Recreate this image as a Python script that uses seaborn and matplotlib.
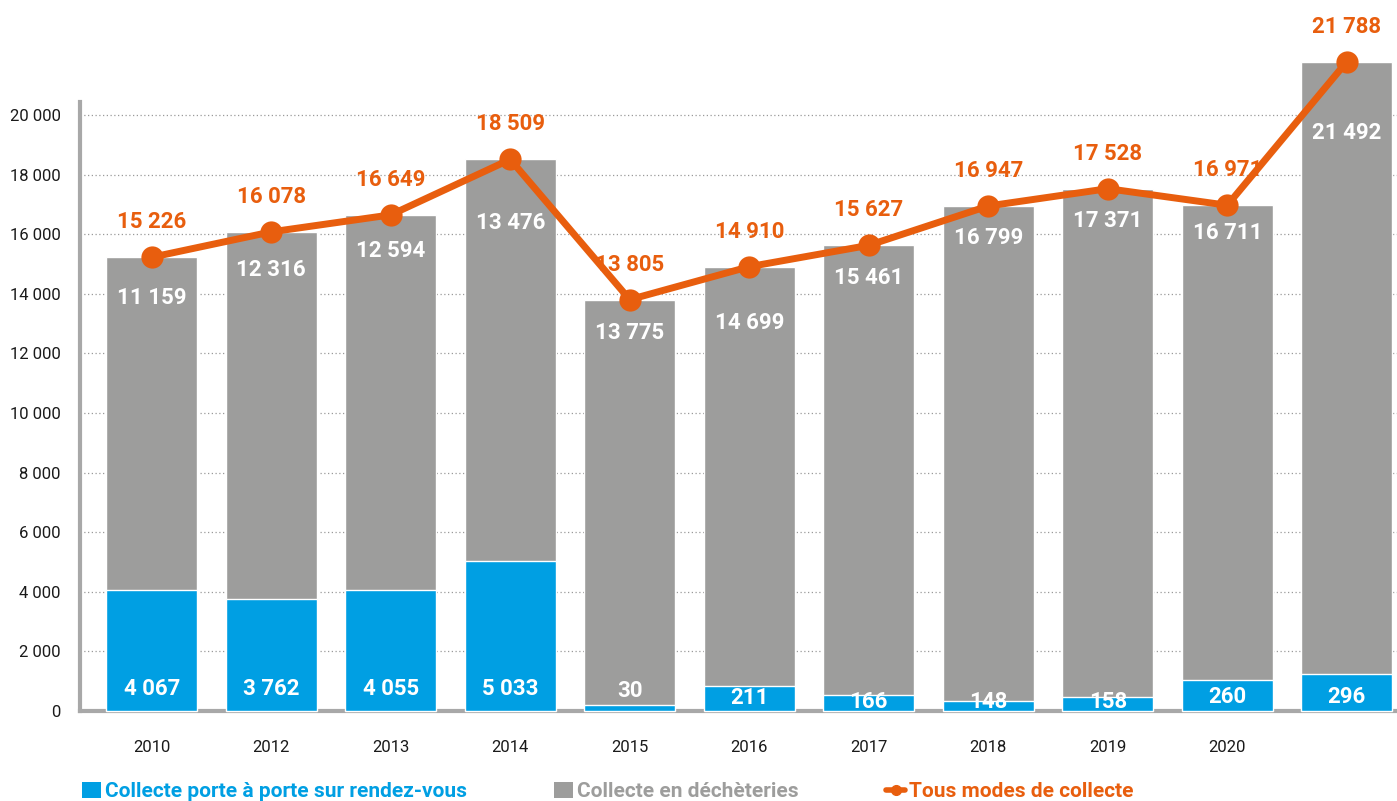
import matplotlib
matplotlib.use("Agg")
import matplotlib.pyplot as plt
import seaborn as sns
import pandas as pd
from matplotlib.patches import Patch
from matplotlib.lines import Line2D

# ---- data ----
years = ["2010", "2012", "2013", "2014", "2015", "2016", "2017", "2018", "2019", "2020", ""]
porte_a_porte = [4067, 3762, 4055, 5033, 30, 211, 166, 148, 158, 260, 296]
porte_a_porte_drawn = [4067, 3762, 4055, 5033, 200, 840, 540, 340, 470, 1045, 1250]
decheteries = [11159, 12316, 12594, 13476, 13775, 14699, 15461, 16799, 17371, 16711, 21492]
total = [15226, 16078, 16649, 18509, 13805, 14910, 15627, 16947, 17528, 16971, 21788]
yticks = [0, 2000, 4000, 6000, 8000, 10000, 12000, 14000, 16000, 18000, 20000]
legend_labels = ["Collecte porte à porte sur rendez-vous", "Collecte en déchèteries", "Tous modes de collecte"]

BLUE = "#009FE3"
GREY = "#9D9D9C"
ORANGE = "#E85E0E"

sns.set_theme(style="white")
plt.rcParams["font.family"] = ["Roboto", "DejaVu Sans"]

def fmt(v):
    return f"{v:,}".replace(",", " ")

df = pd.DataFrame({"year": years, "total": total, "blue": porte_a_porte_drawn})
df["idx"] = range(len(df))

y0_px = 711
top_px = 102
ytop = (y0_px - top_px) / 29.8 * 1000

fig = plt.figure(figsize=(13.97, 8.01), dpi=100)
ax = fig.add_axes([80 / 1397, 1 - y0_px / 801, 1 - 80 / 1397, (y0_px - top_px) / 801])

bw = 0.76
ax.bar(df["idx"], df["total"], width=bw, color=GREY, clip_on=False, zorder=2)
ax.bar(df["idx"], df["blue"], width=bw, color=BLUE, clip_on=False, zorder=3)
sns.lineplot(x=df["idx"], y=df["total"], ax=ax, color=ORANGE, linewidth=5, marker="o",
             markersize=16, markeredgewidth=0, clip_on=False, zorder=5)

ax.set_xlim(-0.6, 10.42)
ax.set_ylim(0, ytop)
ax.set_yticks(yticks)
ax.set_yticklabels([fmt(v) for v in yticks], fontsize=12, color="#1a1a1a")
ax.set_xticks(df["idx"])
ax.set_xticklabels(years, fontsize=12, color="#1a1a1a")
ax.tick_params(axis="x", length=0, pad=21)
ax.tick_params(axis="y", length=0, pad=14)
ax.set_xlabel("")
ax.set_ylabel("")
ax.yaxis.grid(True, linestyle=(0, (1, 2)), color="#9a9a9a", linewidth=0.9)
ax.set_axisbelow(True)
for s in ["top", "right"]:
    ax.spines[s].set_visible(False)
for s in ["left", "bottom"]:
    ax.spines[s].set_color("#a8a8a8")
    ax.spines[s].set_linewidth(3)

# labels
px = ytop / (y0_px - top_px)  # data units per pixel
grey_off = [41, 38, 36, 64, 33, 56, 33, 32, 32, 28, 71]
blue_off = [22, 22, 22, 22, 20, 13, 9, 9, 9, 14, 14]
for i in range(len(years)):
    ax.text(i, total[i] + 35 * px, fmt(total[i]), ha="center", va="center",
            fontsize=16, fontweight="bold", color=ORANGE, zorder=6, clip_on=False)
    ax.text(i, total[i] - grey_off[i] * px, fmt(decheteries[i]), ha="center", va="center",
            fontsize=16, fontweight="bold", color="white", zorder=6, clip_on=False)
    ax.text(i, blue_off[i] * px, fmt(porte_a_porte[i]), ha="center", va="center",
            fontsize=16, fontweight="bold", color="white", zorder=6)

handles = [Patch(facecolor=BLUE, edgecolor="none"),
           Patch(facecolor=GREY, edgecolor="none"),
           Line2D([0], [0], color=ORANGE, lw=4, marker="o", markersize=7)]
leg = fig.legend(handles, legend_labels, loc="lower left", bbox_to_anchor=(63 / 1397, -0.024),
                 ncol=3, frameon=False, handlelength=0.9, handleheight=0.8,
                 handletextpad=0.2, columnspacing=4.2, prop={"weight": "bold", "size": 15})
for t, c in zip(leg.get_texts(), [BLUE, GREY, ORANGE]):
    t.set_color(c)

fig.savefig("out.png", dpi=100)
